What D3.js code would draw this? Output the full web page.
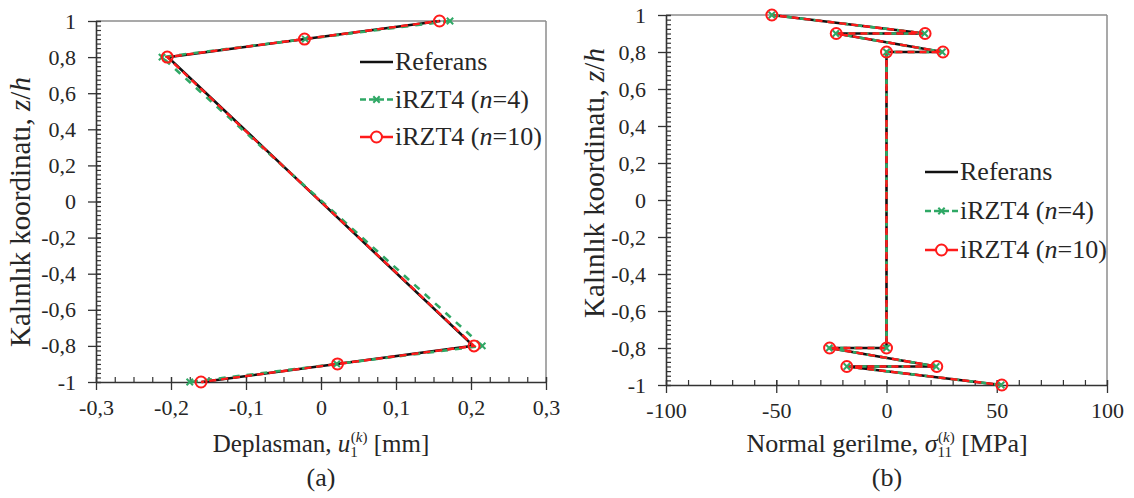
<!DOCTYPE html>
<html><head><meta charset="utf-8">
<script src="https://cdn.jsdelivr.net/npm/d3@7"></script>
<style>
body{margin:0;background:#fff}
svg text{font-family:"Liberation Serif","Tinos","Times New Roman","DejaVu Serif",serif !important;fill:#262626}
</style></head>
<body><svg id="c" width="1134" height="498"></svg>
<script>
// ---- data (a): displacement ----
const zA      = [1, 0.9, 0.8, -0.8, -0.9, -1];
const refU    = [0.159, -0.021, -0.204, 0.203, 0.021, -0.159];
const n4U     = [0.172, -0.021, -0.212, 0.215, 0.021, -0.175];
const n10U    = [0.158, -0.022, -0.205, 0.204, 0.022, -0.160];
// ---- data (b): normal stress ----
const zB      = [1, 0.9, 0.9, 0.8, 0.8, -0.8, -0.8, -0.9, -0.9, -1];
const refS    = [-52, 17.5, -23, 25.5, 0, 0, -26, 22.7, -18, 52];
const n4S     = [-52, 17.3, -23, 25.3, 0, 0, -26, 22.5, -18, 52];
const n10S    = [-52, 17.5, -22.8, 25.6, 0, 0, -25.8, 22.8, -18, 52.3];
// ---- ticks / labels ----
const xTicksA = [-0.3, -0.2, -0.1, 0, 0.1, 0.2, 0.3];
const xTicksB = [-100, -50, 0, 50, 100];
const yTicks  = [-1, -0.8, -0.6, -0.4, -0.2, 0, 0.2, 0.4, 0.6, 0.8, 1];
const seriesNames = ["Referans", "iRZT4 (n=4)", "iRZT4 (n=10)"];

const FONT = '"Liberation Serif","Tinos","Times New Roman","DejaVu Serif",serif';
const svg = d3.select("#c");
const fmt = d => (+d.toFixed(2)).toString().replace(".", ",");
const GREEN = "#2fa865", RED = "#ff1a1a";

function panel(o){
  const x = d3.scaleLinear().domain(o.xd).range([o.L, o.R]);
  const y = d3.scaleLinear().domain([-1, 1]).range([o.B, o.T]);
  const g = svg.append("g");
  g.append("line").attr("x1",o.L).attr("x2",o.R).attr("y1",o.T).attr("y2",o.T).attr("stroke","#8c8c8c").attr("stroke-width",1.5);
  g.append("line").attr("x1",o.R).attr("x2",o.R).attr("y1",o.T).attr("y2",o.B).attr("stroke","#8c8c8c").attr("stroke-width",1.5);
  const xm = d3.range(o.xd[0], o.xd[1] + o.xminor/2, o.xminor);
  g.append("g").attr("transform",`translate(0,${o.B})`)
    .call(d3.axisBottom(x).tickValues(xm).tickSize(-5).tickFormat(""))
    .call(s=>{s.select(".domain").remove(); s.selectAll("line").attr("stroke","#333").attr("stroke-width",1.2);});
  const ym = d3.range(-1, 1.0001, 0.025);
  g.append("g").attr("transform",`translate(${o.L},0)`)
    .call(d3.axisLeft(y).tickValues(ym).tickSize(-5).tickFormat(""))
    .call(s=>{s.select(".domain").remove(); s.selectAll("line").attr("stroke","#333").attr("stroke-width",1.2);});
  g.append("g").attr("transform",`translate(0,${o.B})`)
    .call(d3.axisBottom(x).tickValues(o.xt).tickSizeInner(8).tickSizeOuter(0).tickPadding(9).tickFormat(fmt))
    .call(s=>{
      s.attr("font-family",FONT);
      s.select(".domain").attr("stroke","#333").attr("stroke-width",1.6);
      s.selectAll(".tick line").attr("y1",-5).attr("stroke","#333").attr("stroke-width",1.3);
      s.selectAll("text").attr("font-size",22).attr("fill","#262626");
    });
  g.append("g").attr("transform",`translate(${o.L},0)`)
    .call(d3.axisLeft(y).tickValues(yTicks).tickSizeInner(8).tickSizeOuter(0).tickPadding(o.ypad).tickFormat(fmt))
    .call(s=>{
      s.attr("font-family",FONT);
      s.select(".domain").attr("stroke","#333").attr("stroke-width",1.6);
      s.selectAll(".tick line").attr("x1",5).attr("stroke","#333").attr("stroke-width",1.3);
      s.selectAll("text").attr("font-size",22).attr("fill","#262626");
    });
  const line = d3.line().x(d=>x(d[0])).y(d=>y(d[1]));
  const pts = (v,z) => v.map((d,i)=>[d, z[i]]);
  const pr = pts(o.ref,o.z), p4 = pts(o.s4,o.z), p10 = pts(o.s10,o.z);
  g.append("path").attr("d",line(pr)).attr("fill","none").attr("stroke","#111").attr("stroke-width",2.6);
  g.append("path").attr("d",line(p4)).attr("fill","none").attr("stroke",GREEN).attr("stroke-width",2.6).attr("stroke-dasharray","7,7");
  g.append("path").attr("d",line(p10)).attr("fill","none").attr("stroke",RED).attr("stroke-width",2.4).attr("stroke-dasharray","7,5").attr("stroke-dashoffset",4);
  const xm4 = d3.symbol().type(d3.symbolX).size(28);
  g.selectAll(".m4").data(p4).join("path").attr("transform",d=>`translate(${x(d[0])},${y(d[1])})`)
    .attr("d",xm4).attr("stroke",GREEN).attr("stroke-width",2).attr("fill","none");
  g.selectAll(".m10").data(p10).join("circle").attr("cx",d=>x(d[0])).attr("cy",d=>y(d[1])).attr("r",5.5)
    .attr("fill","none").attr("stroke",RED).attr("stroke-width",2);
  const lg = svg.append("g").attr("transform",`translate(${o.lx},${o.ly})`).attr("font-family",FONT);
  seriesNames.forEach((nm,i)=>{
    const r = lg.append("g").attr("transform",`translate(0,${i*o.lstep})`);
    const col = i===0?"#111":(i===1?GREEN:RED);
    r.append("line").attr("x1",0).attr("x2",33).attr("y1",0).attr("y2",0).attr("stroke",col).attr("stroke-width",2.6)
      .attr("stroke-dasharray", i===1?"6,3":null);
    if(i===1) r.append("path").attr("transform","translate(16.5,0)").attr("d",xm4).attr("stroke",GREEN).attr("stroke-width",2).attr("fill","none");
    if(i===2) r.append("circle").attr("cx",16.5).attr("cy",0).attr("r",5.5).attr("fill","#fff").attr("stroke",RED).attr("stroke-width",2);
    const t = r.append("text").attr("x",35).attr("y",8).attr("font-size",26);
    if(i===0) t.text(nm);
    else {
      t.append("tspan").text("iRZT4 (");
      t.append("tspan").attr("font-style","italic").text("n");
      t.append("tspan").text(i===1?"=4)":"=10)");
    }
  });
  const yt = svg.append("text").attr("transform",`translate(${o.ytx},${o.yty}) rotate(-90)`)
    .attr("text-anchor","middle").attr("font-size",o.ytfs).attr("font-family",FONT);
  yt.append("tspan").text("Kalınlık koordinatı, ");
  yt.append("tspan").attr("font-style","italic").text("z");
  yt.append("tspan").text("/");
  yt.append("tspan").attr("font-style","italic").text("h");
  const xt = svg.append("text").attr("x",o.xtx).attr("y",452).attr("text-anchor","middle").attr("font-size",o.xtfs).attr("font-family",FONT);
  xt.append("tspan").text(o.xtitle);
  xt.append("tspan").attr("font-style","italic").text(o.sym);
  xt.append("tspan").attr("font-size",15).attr("dy",5).text(o.sub);
  xt.append("tspan").attr("font-size",15).attr("dy",-15).attr("dx",-o.subw).text("(");
  xt.append("tspan").attr("font-size",15).attr("font-style","italic").text("k");
  xt.append("tspan").attr("font-size",15).text(")");
  xt.append("tspan").attr("dy",10).text(" [" + o.unit + "]");
  svg.append("text").attr("x",o.xtx).attr("y",486).attr("text-anchor","middle").attr("font-size",26).attr("font-family",FONT).text(o.cap);
}

panel({xd:[-0.3,0.3], xt:xTicksA, xminor:0.025, L:96, R:546, T:21, B:382, ypad:12,
  z:zA, ref:refU, s4:n4U, s10:n10U, lx:360, ly:62, lstep:37.5,
  ytx:30, yty:212, ytfs:29, xtfs:25, xtx:321, xtitle:"Deplasman, ", sym:"u", sub:"1", subw:7, unit:"mm", cap:"(a)"});
panel({xd:[-100,100], xt:xTicksB, xminor:10, L:666, R:1107, T:15, B:385, ypad:12,
  z:zB, ref:refS, s4:n4S, s10:n10S, lx:925, ly:172, lstep:39,
  ytx:604, yty:183, ytfs:29, xtfs:26, xtx:887, xtitle:"Normal gerilme, ", sym:"σ", sub:"11", subw:14, unit:"MPa", cap:"(b)"});
</script></body></html>
